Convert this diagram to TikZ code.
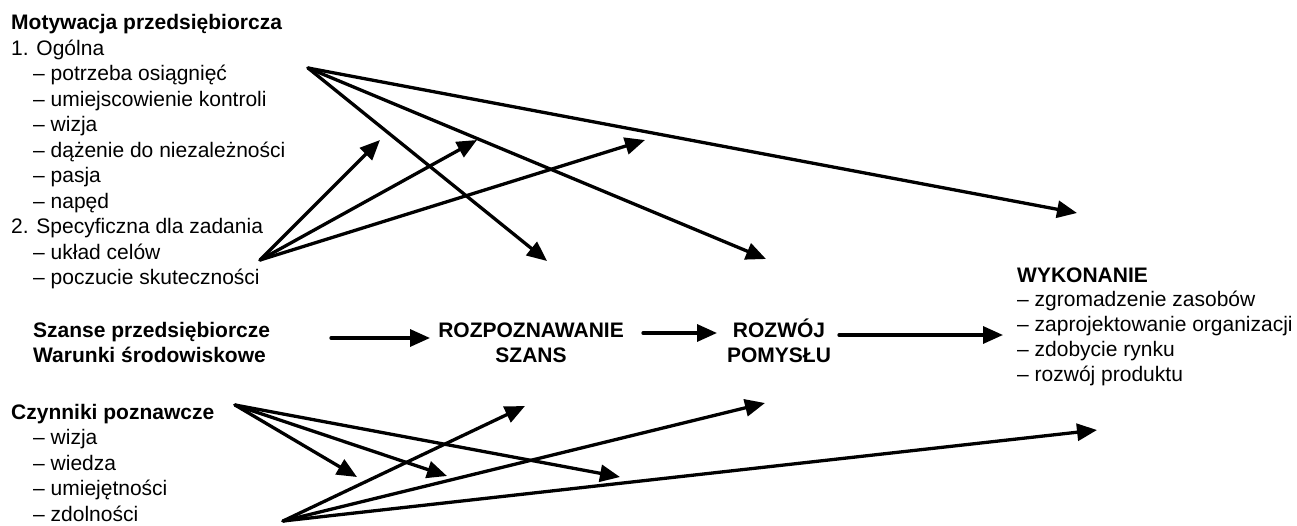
\documentclass[tikz,border=0pt]{standalone}
\usepackage{fontspec}
\setmainfont{Liberation Sans}
\usetikzlibrary{arrows.meta}
\begin{document}
\begin{tikzpicture}[x=1pt,y=-1pt,
  font=\fontsize{21}{25.5}\selectfont,
  arr/.style={line width=3.3pt,line cap=round,-{Triangle[length=20pt,width=17pt]}},
  txt/.style={inner sep=0pt,anchor=base west},
  ctxt/.style={inner sep=0pt,anchor=base}]
\useasboundingbox (0,0) rectangle (1297,525);
\newcommand{\ind}{\hspace*{22pt}}
% text blocks
\node[txt] (mot) at (11,29.5) {\begin{tabular}[t]{@{}l@{}}
\textbf{Motywacja przedsiębiorcza}\\
1. Ogólna\\
\ind– potrzeba osiągnięć\\
\ind– umiejscowienie kontroli\\
\ind– wizja\\
\ind– dążenie do niezależności\\
\ind– pasja\\
\ind– napęd\\
2. Specyficzna dla zadania\\
\ind– układ celów\\
\ind– poczucie skuteczności
\end{tabular}};
\node[txt] (szanse) at (33,337) {\begin{tabular}[t]{@{}l@{}}
\textbf{Szanse przedsiębiorcze}\\
\textbf{Warunki środowiskowe}
\end{tabular}};
\node[ctxt] (rozp) at (531,337) {\begin{tabular}[t]{@{}c@{}}
\textbf{ROZPOZNAWANIE}\\
\textbf{SZANS}
\end{tabular}};
\node[ctxt] (rozw) at (779,337) {\begin{tabular}[t]{@{}c@{}}
\textbf{ROZWÓJ}\\
\textbf{POMYSŁU}
\end{tabular}};
\node[txt] (wyk) at (1017,282) {\fontsize{21}{24.8}\selectfont\begin{tabular}[t]{@{}l@{}}
\textbf{WYKONANIE}\\
– zgromadzenie zasobów\\
– zaprojektowanie organizacji\\
– zdobycie rynku\\
– rozwój produktu
\end{tabular}};
\node[txt] (czyn) at (11,419) {\begin{tabular}[t]{@{}l@{}}
\textbf{Czynniki poznawcze}\\
\ind– wizja\\
\ind– wiedza\\
\ind– umiejętności\\
\ind– zdolności
\end{tabular}};
% arrow end points
\coordinate (mo) at (308,68);
\coordinate (t1) at (547,261);
\coordinate (t2) at (766,259);
\coordinate (t3) at (1077,213);
\coordinate (ms) at (260,260);
\coordinate (u1) at (380,140);
\coordinate (u2) at (477,140);
\coordinate (u3) at (645,140);
\coordinate (co) at (235,405);
\coordinate (d1) at (357,477);
\coordinate (d2) at (447,476);
\coordinate (d3) at (620,477);
\coordinate (cz) at (283,521);
\coordinate (e1) at (525,406);
\coordinate (e2) at (765,403);
\coordinate (e3) at (1097,430);
\coordinate (h0s) at (331,338);
\coordinate (h0e) at (430,338);
\coordinate (h1s) at (643,333);
\coordinate (h1e) at (717,333);
\coordinate (h2s) at (839,335);
\coordinate (h2e) at (1003,335);
% arrows
\draw[arr] (mo) -- (t1);
\draw[arr] (mo) -- (t2);
\draw[arr] (mo) -- (t3);
\draw[arr] (ms) -- (u1);
\draw[arr] (ms) -- (u2);
\draw[arr] (ms) -- (u3);
\draw[arr] (co) -- (d1);
\draw[arr] (co) -- (d2);
\draw[arr] (co) -- (d3);
\draw[arr] (cz) -- (e1);
\draw[arr] (cz) -- (e2);
\draw[arr] (cz) -- (e3);
\draw[arr] (h0s) -- (h0e);
\draw[arr] (h1s) -- (h1e);
\draw[arr] (h2s) -- (h2e);
\end{tikzpicture}
\end{document}
